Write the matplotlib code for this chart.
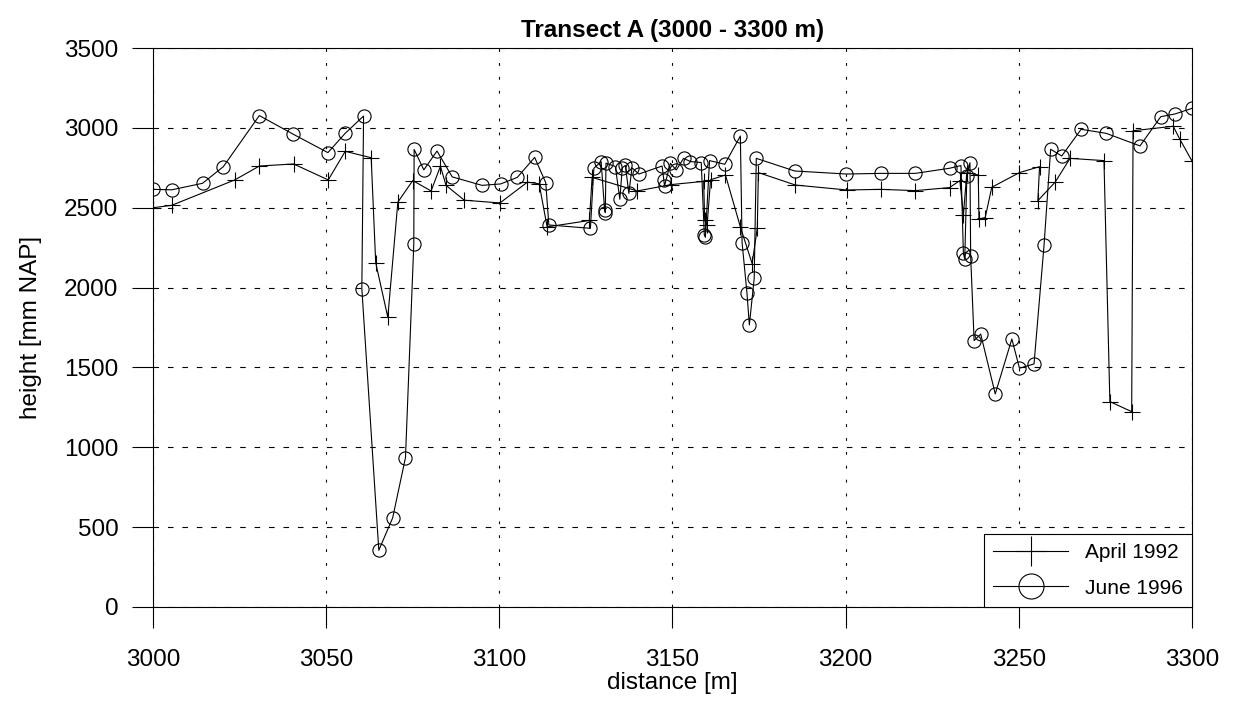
import matplotlib
matplotlib.use("Agg")
import matplotlib.pyplot as plt

plt.rcParams['font.family'] = ['Liberation Sans', 'DejaVu Sans']

# April 1992 survey (distance [m], height [mm NAP])
april_dist = [3000, 3005.4, 3023.6, 3030.7, 3040.6, 3050.6, 3055.5, 3063, 3064.3, 3067.8,
              3070.7, 3075, 3080.3, 3083, 3084.6, 3089.9, 3100.2, 3108.1, 3111.5, 3113.8,
              3126, 3126.8, 3139.8, 3149.7, 3159, 3159.3, 3160, 3161, 3165.3, 3169.6,
              3173, 3174.5, 3174.8, 3185.5, 3200.4, 3210.2, 3220.1, 3230, 3233, 3234,
              3235, 3238.3, 3238.5, 3240.3, 3242.2, 3250.2, 3256, 3255.5, 3260.5, 3264.8,
              3274.6, 3276.3, 3282.6, 3283, 3294.6, 3296.5, 3300]
april_h = [2500, 2515, 2674, 2761, 2774, 2674, 2853, 2813, 2156, 1814,
           2535, 2670, 2605, 2760, 2640, 2547, 2530, 2660, 2650, 2380,
           2420, 2690, 2605, 2645, 2665, 2420, 2390, 2675, 2705, 2380,
           2150, 2375, 2720, 2642, 2611, 2615, 2607, 2626, 2670, 2455,
           2720, 2705, 2430, 2438, 2628, 2720, 2757, 2544, 2660, 2809,
           2795, 1286, 1223, 2982, 3010, 2929, 2793]

# June 1996 survey
june_dist = [3000, 3005.4, 3014.3, 3020.3, 3030.7, 3040.5, 3050.5, 3055.5, 3060.8, 3060.3,
             3065.2, 3069.2, 3072.9, 3075.3, 3075.4, 3078.2, 3082, 3086.4, 3095, 3100.4,
             3105.2, 3110.2, 3113.4, 3114.3, 3126.3, 3127.3, 3129.4, 3130.4, 3130.6, 3130.8,
             3133.5, 3134.8, 3135.5, 3136.4, 3137.4, 3138.3, 3140.3, 3147, 3147.5, 3147.7,
             3149.4, 3151.1, 3153.2, 3155.2, 3158.3, 3159.2, 3159.5, 3160.7, 3165.1, 3169.6,
             3170.1, 3171.5, 3172.2, 3173.6, 3174.2, 3185.3, 3200.2, 3210.2, 3220.1, 3230,
             3233.3, 3234, 3234.4, 3235, 3235.9, 3236.1, 3237.1, 3239, 3243.2, 3248,
             3250.2, 3254.4, 3257.3, 3259.2, 3262.4, 3268, 3275.2, 3285, 3291, 3295.1,
             3300]
june_h = [2615, 2612, 2653, 2757, 3077, 2960, 2845, 2966, 3074, 1993,
          355, 558, 935, 2272, 2865, 2737, 2855, 2693, 2640, 2649,
          2690, 2815, 2657, 2392, 2371, 2747, 2789, 2486, 2470, 2779,
          2758, 2553, 2750, 2765, 2590, 2750, 2711, 2761, 2674, 2636,
          2778, 2736, 2809, 2789, 2783, 2329, 2315, 2795, 2772, 2949,
          2281, 1968, 1766, 2058, 2809, 2730, 2711, 2715, 2715, 2747,
          2764, 2215, 2177, 2700, 2782, 2198, 1668, 1709, 1334, 1678,
          1495, 1522, 2267, 2866, 2824, 2991, 2966, 2887, 3070, 3087,
          3122]

xticks = [3000, 3050, 3100, 3150, 3200, 3250, 3300]
yticks = [0, 500, 1000, 1500, 2000, 2500, 3000, 3500]

fig = plt.figure(figsize=(12.33, 7.04), dpi=100)
ax = fig.add_axes([0.1241, 0.1378, 0.8426, 0.794])

ax.plot(april_dist, april_h, color='black', lw=0.8, marker='+', ms=11,
        mew=0.8, label='April 1992')
ax.plot(june_dist, june_h, color='black', lw=0.8, marker='o', ms=9.5,
        mfc='none', mew=0.8, label='June 1996')

ax.set_xlim(3000, 3300)
ax.set_ylim(0, 3500)
ax.set_xticks(xticks)
ax.set_yticks(yticks)
ax.tick_params(direction='out', length=15, width=0.8, labelsize=17.5)
ax.tick_params(axis='x', pad=15)
ax.tick_params(axis='y', pad=10)

# dashed grid, horizontal dashes longer than vertical ones
ax.xaxis.grid(True, color='black', lw=0.8, linestyle=(0, (2.5, 10)))
ax.yaxis.grid(True, color='black', lw=0.8, linestyle=(0, (5, 8)))
for s in ax.spines.values():
    s.set_linewidth(0.8)

ax.set_xlabel('distance [m]', fontsize=17.5, labelpad=1)
ax.set_ylabel('height [mm NAP]', fontsize=17.5, labelpad=16)
ax.set_title('Transect A (3000 - 3300 m)', fontsize=17.5, fontweight='bold', pad=8)

leg = ax.legend(loc='lower right', borderaxespad=0, fancybox=False,
                edgecolor='black', framealpha=1, fontsize=15, markerscale=1.9,
                handlelength=3.6, labelspacing=0.8, borderpad=0.45)
leg.get_frame().set_linewidth(0.8)

fig.savefig('out.png', dpi=100)
